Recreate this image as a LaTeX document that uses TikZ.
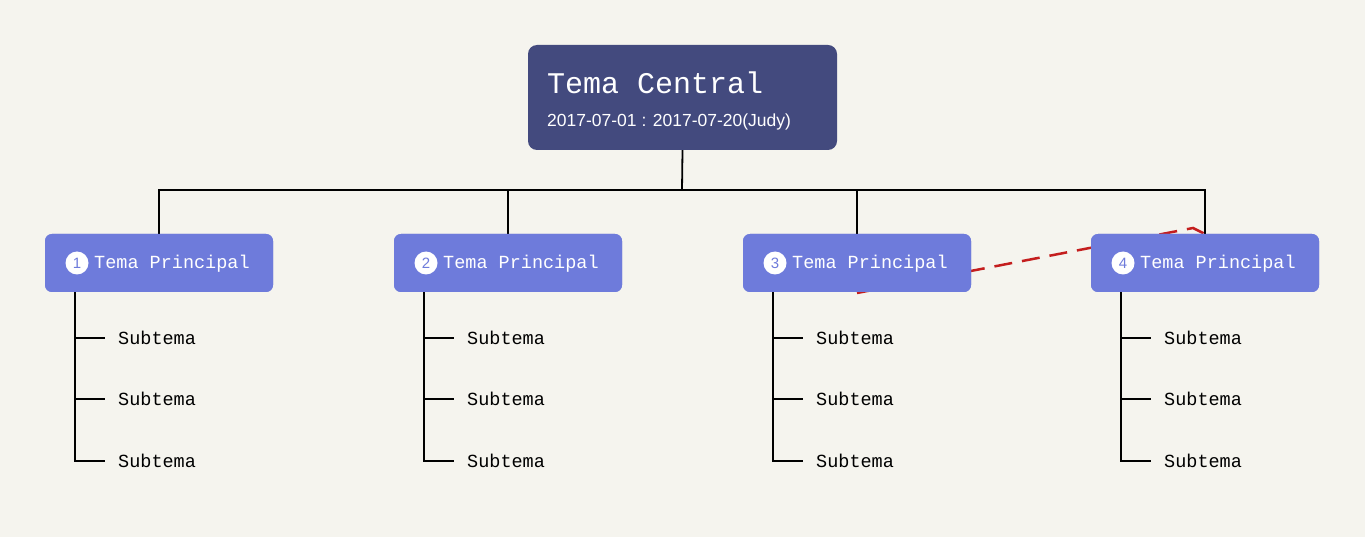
\documentclass[tikz,border=0pt]{standalone}
\usepackage{fontspec}
\setmainfont{Liberation Sans}
\newfontfamily\monof{Liberation Mono}
\begin{document}
\begin{tikzpicture}[x=1pt,y=-1pt,
  central/.style={fill=cen,rounded corners=9pt,inner sep=0pt},
  mainbox/.style={fill=mainc,rounded corners=7pt,minimum width=228pt,minimum height=58pt,inner sep=0pt},
  numc/.style={circle,fill=white,minimum size=23pt,inner sep=0pt,text=mainc,font=\fontsize{15}{15}\selectfont},
  mtext/.style={text=white,font=\monof\fontsize{18.5}{20}\selectfont,anchor=west,inner sep=0pt},
  sub/.style={font=\monof\fontsize{18.5}{20}\selectfont,anchor=west,inner sep=0pt},
  ln/.style={line width=1.1pt}]
\definecolor{bg}{HTML}{F5F4EE}
\definecolor{cen}{HTML}{434A7E}
\definecolor{mainc}{HTML}{6E7BDB}
\definecolor{redl}{HTML}{C41E1E}
\fill[bg] (0,0) rectangle (1365,537);
\useasboundingbox (0,0) rectangle (1365,537);
% red dashed link behind
\coordinate (r1) at (857,293);
\coordinate (rk) at (1193,228);
\coordinate (r2) at (1205,234);
\draw[redl,line width=2.5pt,dash pattern=on 18pt off 10pt] (r1) -- (rk) -- (r2);
% central
\node[central,minimum width=309pt,minimum height=105pt] (c) at (682.5,97.5) {};
\node[text=white,font=\monof\fontsize{30}{32}\selectfont,anchor=west,inner sep=0pt] (ct) at (547,83) {Tema Central};
\node[text=white,font=\fontsize{17.5}{19}\selectfont,anchor=west,inner sep=0pt] (cd) at (547,122) {2017-07-01 : 2017-07-20(Judy)};
\coordinate (hub) at (682,190);
\draw[line width=1.8pt] (c.south) -- (hub);
\foreach \i/\x in {1/159,2/508,3/857,4/1205}{
  \node[mainbox] (m\i) at (\x,263) {};
  \draw[ln] (hub) -| (m\i.north);
}
\foreach \i/\x in {1/159,2/508,3/857,4/1205}{
  \node[mainbox] (m\i) at (\x,263) {};
  \node[numc] (n\i) at ([xshift=-82pt]m\i.center) {\i};
  \node[mtext] (t\i) at ([xshift=-65pt,yshift=-1pt]m\i.center) {Tema Principal};
  \coordinate (v\i) at ([xshift=-84pt]m\i.south);
  \foreach \j/\y in {a/338,b/399,c/461}{
    \node[sub] (s\i\j) at ([xshift=43pt]v\i |- 0,\y) {Subtema};
    \draw[ln] (v\i) |- ([xshift=-13pt]s\i\j.west);
  }
}
\end{tikzpicture}
\end{document}
